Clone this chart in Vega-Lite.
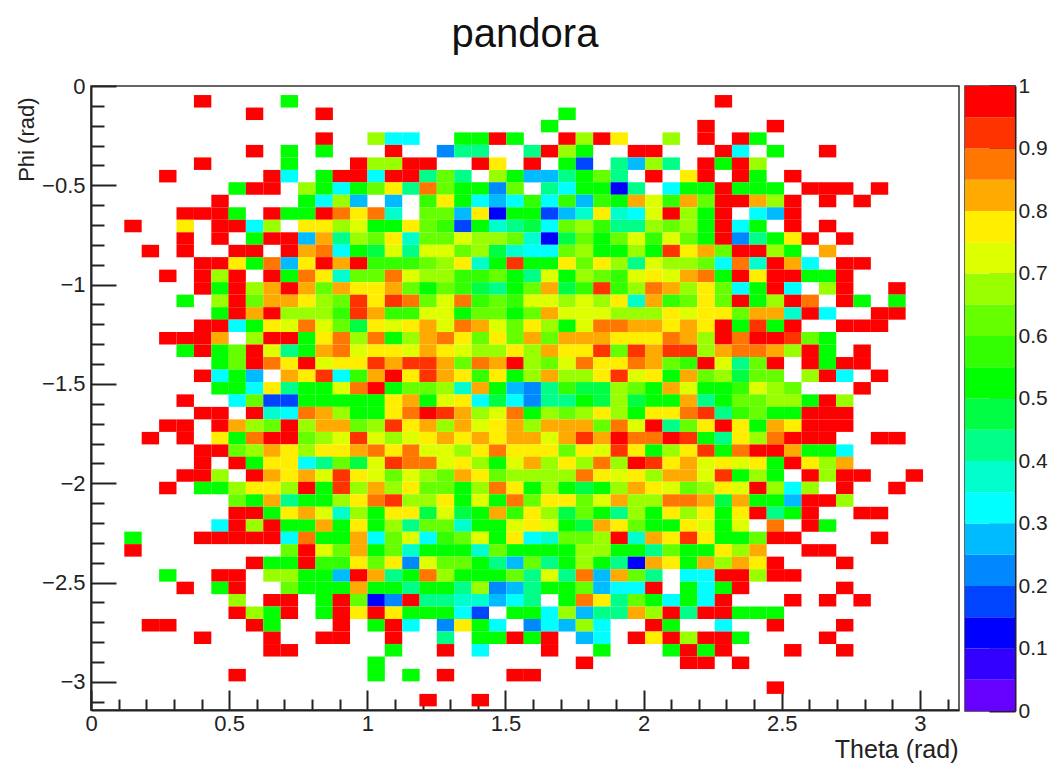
{"$schema":"https://vega.github.io/schema/vega-lite/v6.json","background":"white","padding":{"left":14,"top":14,"right":0,"bottom":0},"spacing":4,"config":{"font":"Liberation Sans","view":{"stroke":"#333","strokeWidth":1.5},"axis":{"labelFont":"Liberation Sans","titleFont":"Liberation Sans","labelColor":"#222","titleColor":"#222","domainColor":"#222","domainWidth":2,"tickColor":"#222","tickWidth":2,"grid":false,"titleFontWeight":"normal"}},"hconcat":[{"width":868,"height":624,"title":{"text":"pandora","fontSize":40,"fontWeight":"normal","font":"Liberation Sans","color":"#111","anchor":"middle","offset":20},"data":{"values":[
{"t":0.404,"p":-0.077,"v":1},{"t":0.718,"p":-0.077,"v":0.52},{"t":2.289,"p":-0.077,"v":1},
{"t":0.592,"p":-0.14,"v":1},{"t":0.844,"p":-0.14,"v":1},{"t":1.723,"p":-0.14,"v":0.52},
{"t":1.66,"p":-0.202,"v":0.52},{"t":2.226,"p":-0.202,"v":1},{"t":2.477,"p":-0.202,"v":1},
{"t":0.844,"p":-0.265,"v":1},{"t":1.032,"p":-0.265,"v":0.67},{"t":1.095,"p":-0.265,"v":0.33},{"t":1.158,"p":-0.265,"v":0.33},{"t":1.346,"p":-0.265,"v":0.52},{"t":1.409,"p":-0.265,"v":0.52},{"t":1.472,"p":-0.265,"v":1},{"t":1.535,"p":-0.265,"v":0.52},{"t":1.723,"p":-0.265,"v":1},{"t":1.786,"p":-0.265,"v":0.67},{"t":1.849,"p":-0.265,"v":1},{"t":1.912,"p":-0.265,"v":0.77},{"t":2.1,"p":-0.265,"v":0.67},{"t":2.226,"p":-0.265,"v":1},{"t":2.351,"p":-0.265,"v":1},{"t":2.414,"p":-0.265,"v":0.52},
{"t":0.592,"p":-0.328,"v":1},{"t":0.718,"p":-0.328,"v":0.52},{"t":0.844,"p":-0.328,"v":0.52},{"t":1.095,"p":-0.328,"v":1},{"t":1.283,"p":-0.328,"v":0.22},{"t":1.346,"p":-0.328,"v":0.42},{"t":1.409,"p":-0.328,"v":0.42},{"t":1.597,"p":-0.328,"v":0.42},{"t":1.66,"p":-0.328,"v":1},{"t":1.723,"p":-0.328,"v":0.67},{"t":1.786,"p":-0.328,"v":0.52},{"t":1.974,"p":-0.328,"v":1},{"t":2.037,"p":-0.328,"v":1},{"t":2.289,"p":-0.328,"v":1},{"t":2.351,"p":-0.328,"v":0.33},{"t":2.477,"p":-0.328,"v":0.52},{"t":2.666,"p":-0.328,"v":1},
{"t":0.404,"p":-0.391,"v":1},{"t":0.718,"p":-0.391,"v":0.52},{"t":0.969,"p":-0.391,"v":1},{"t":1.032,"p":-0.391,"v":0.67},{"t":1.095,"p":-0.391,"v":0.67},{"t":1.158,"p":-0.391,"v":1},{"t":1.22,"p":-0.391,"v":1},{"t":1.409,"p":-0.391,"v":1},{"t":1.472,"p":-0.391,"v":0.77},{"t":1.597,"p":-0.391,"v":1},{"t":1.723,"p":-0.391,"v":0.52},{"t":1.786,"p":-0.391,"v":0.17},{"t":1.912,"p":-0.391,"v":0.42},{"t":1.974,"p":-0.391,"v":0.27},{"t":2.037,"p":-0.391,"v":0.67},{"t":2.1,"p":-0.391,"v":0.42},{"t":2.226,"p":-0.391,"v":1},{"t":2.289,"p":-0.391,"v":0.52},{"t":2.351,"p":-0.391,"v":1},{"t":2.414,"p":-0.391,"v":0.67},
{"t":0.278,"p":-0.454,"v":1},{"t":0.655,"p":-0.454,"v":1},{"t":0.718,"p":-0.454,"v":0.33},{"t":0.844,"p":-0.454,"v":0.52},{"t":0.906,"p":-0.454,"v":1},{"t":0.969,"p":-0.454,"v":1},{"t":1.032,"p":-0.454,"v":0.33},{"t":1.095,"p":-0.454,"v":1},{"t":1.158,"p":-0.454,"v":1},{"t":1.22,"p":-0.454,"v":0.42},{"t":1.283,"p":-0.454,"v":0.62},{"t":1.346,"p":-0.454,"v":0.42},{"t":1.472,"p":-0.454,"v":0.67},{"t":1.535,"p":-0.454,"v":0.52},{"t":1.597,"p":-0.454,"v":0.27},{"t":1.66,"p":-0.454,"v":0.27},{"t":1.723,"p":-0.454,"v":0.42},{"t":1.786,"p":-0.454,"v":0.52},{"t":1.849,"p":-0.454,"v":0.62},{"t":1.912,"p":-0.454,"v":0.42},{"t":2.037,"p":-0.454,"v":1},{"t":2.163,"p":-0.454,"v":0.77},{"t":2.226,"p":-0.454,"v":1},{"t":2.351,"p":-0.454,"v":1},{"t":2.414,"p":-0.454,"v":0.52},{"t":2.54,"p":-0.454,"v":1},
{"t":0.529,"p":-0.516,"v":0.52},{"t":0.592,"p":-0.516,"v":1},{"t":0.655,"p":-0.516,"v":1},{"t":0.781,"p":-0.516,"v":0.67},{"t":0.844,"p":-0.516,"v":0.52},{"t":0.906,"p":-0.516,"v":0.33},{"t":0.969,"p":-0.516,"v":0.52},{"t":1.032,"p":-0.516,"v":0.62},{"t":1.095,"p":-0.516,"v":0.77},{"t":1.158,"p":-0.516,"v":0.42},{"t":1.22,"p":-0.516,"v":0.87},{"t":1.283,"p":-0.516,"v":0.62},{"t":1.346,"p":-0.516,"v":0.52},{"t":1.409,"p":-0.516,"v":0.52},{"t":1.472,"p":-0.516,"v":0.22},{"t":1.535,"p":-0.516,"v":0.62},{"t":1.66,"p":-0.516,"v":0.42},{"t":1.723,"p":-0.516,"v":0.33},{"t":1.786,"p":-0.516,"v":0.52},{"t":1.849,"p":-0.516,"v":0.52},{"t":1.912,"p":-0.516,"v":0.12},{"t":1.974,"p":-0.516,"v":0.42},{"t":2.1,"p":-0.516,"v":0.33},{"t":2.163,"p":-0.516,"v":0.52},{"t":2.226,"p":-0.516,"v":0.52},{"t":2.289,"p":-0.516,"v":1},{"t":2.351,"p":-0.516,"v":0.52},{"t":2.414,"p":-0.516,"v":0.52},{"t":2.477,"p":-0.516,"v":0.52},{"t":2.603,"p":-0.516,"v":1},{"t":2.666,"p":-0.516,"v":1},{"t":2.728,"p":-0.516,"v":1},{"t":2.854,"p":-0.516,"v":1},
{"t":0.467,"p":-0.579,"v":1},{"t":0.781,"p":-0.579,"v":0.52},{"t":0.844,"p":-0.579,"v":0.33},{"t":0.906,"p":-0.579,"v":0.67},{"t":0.969,"p":-0.579,"v":0.27},{"t":1.095,"p":-0.579,"v":0.27},{"t":1.22,"p":-0.579,"v":0.57},{"t":1.283,"p":-0.579,"v":0.77},{"t":1.346,"p":-0.579,"v":0.52},{"t":1.409,"p":-0.579,"v":0.33},{"t":1.472,"p":-0.579,"v":0.27},{"t":1.535,"p":-0.579,"v":0.33},{"t":1.597,"p":-0.579,"v":0.57},{"t":1.66,"p":-0.579,"v":0.33},{"t":1.723,"p":-0.579,"v":0.57},{"t":1.786,"p":-0.579,"v":0.27},{"t":1.849,"p":-0.579,"v":0.57},{"t":1.912,"p":-0.579,"v":0.52},{"t":1.974,"p":-0.579,"v":0.82},{"t":2.037,"p":-0.579,"v":0.72},{"t":2.1,"p":-0.579,"v":0.57},{"t":2.163,"p":-0.579,"v":0.82},{"t":2.226,"p":-0.579,"v":0.62},{"t":2.289,"p":-0.579,"v":1},{"t":2.351,"p":-0.579,"v":1},{"t":2.414,"p":-0.579,"v":0.82},{"t":2.477,"p":-0.579,"v":0.67},{"t":2.54,"p":-0.579,"v":1},{"t":2.666,"p":-0.579,"v":1},{"t":2.791,"p":-0.579,"v":1},
{"t":0.341,"p":-0.642,"v":1},{"t":0.404,"p":-0.642,"v":1},{"t":0.467,"p":-0.642,"v":1},{"t":0.529,"p":-0.642,"v":0.52},{"t":0.655,"p":-0.642,"v":1},{"t":0.718,"p":-0.642,"v":0.52},{"t":0.781,"p":-0.642,"v":0.52},{"t":0.844,"p":-0.642,"v":1},{"t":0.906,"p":-0.642,"v":0.87},{"t":0.969,"p":-0.642,"v":0.77},{"t":1.032,"p":-0.642,"v":0.87},{"t":1.095,"p":-0.642,"v":0.37},{"t":1.22,"p":-0.642,"v":0.62},{"t":1.283,"p":-0.642,"v":0.62},{"t":1.346,"p":-0.642,"v":0.27},{"t":1.409,"p":-0.642,"v":0.77},{"t":1.472,"p":-0.642,"v":0.12},{"t":1.535,"p":-0.642,"v":0.52},{"t":1.597,"p":-0.642,"v":0.52},{"t":1.66,"p":-0.642,"v":0.17},{"t":1.723,"p":-0.642,"v":0.27},{"t":1.786,"p":-0.642,"v":0.37},{"t":1.849,"p":-0.642,"v":0.77},{"t":1.912,"p":-0.642,"v":0.37},{"t":1.974,"p":-0.642,"v":0.33},{"t":2.037,"p":-0.642,"v":0.72},{"t":2.1,"p":-0.642,"v":1},{"t":2.163,"p":-0.642,"v":0.67},{"t":2.226,"p":-0.642,"v":0.52},{"t":2.289,"p":-0.642,"v":1},{"t":2.414,"p":-0.642,"v":0.33},{"t":2.477,"p":-0.642,"v":0.27},{"t":2.54,"p":-0.642,"v":1},
{"t":0.152,"p":-0.705,"v":1},{"t":0.341,"p":-0.705,"v":0.77},{"t":0.467,"p":-0.705,"v":1},{"t":0.529,"p":-0.705,"v":1},{"t":0.592,"p":-0.705,"v":0.33},{"t":0.655,"p":-0.705,"v":0.67},{"t":0.781,"p":-0.705,"v":0.77},{"t":0.844,"p":-0.705,"v":0.77},{"t":0.906,"p":-0.705,"v":0.67},{"t":0.969,"p":-0.705,"v":0.72},{"t":1.032,"p":-0.705,"v":0.52},{"t":1.095,"p":-0.705,"v":0.52},{"t":1.158,"p":-0.705,"v":0.77},{"t":1.22,"p":-0.705,"v":0.62},{"t":1.283,"p":-0.705,"v":0.57},{"t":1.346,"p":-0.705,"v":0.17},{"t":1.409,"p":-0.705,"v":0.52},{"t":1.472,"p":-0.705,"v":0.37},{"t":1.535,"p":-0.705,"v":0.42},{"t":1.597,"p":-0.705,"v":0.47},{"t":1.66,"p":-0.705,"v":0.33},{"t":1.723,"p":-0.705,"v":0.62},{"t":1.786,"p":-0.705,"v":0.67},{"t":1.849,"p":-0.705,"v":0.57},{"t":1.912,"p":-0.705,"v":0.42},{"t":1.974,"p":-0.705,"v":0.42},{"t":2.037,"p":-0.705,"v":0.67},{"t":2.1,"p":-0.705,"v":0.62},{"t":2.163,"p":-0.705,"v":0.67},{"t":2.226,"p":-0.705,"v":0.52},{"t":2.289,"p":-0.705,"v":1},{"t":2.351,"p":-0.705,"v":0.33},{"t":2.414,"p":-0.705,"v":0.52},{"t":2.54,"p":-0.705,"v":1},{"t":2.666,"p":-0.705,"v":1},
{"t":0.341,"p":-0.768,"v":1},{"t":0.467,"p":-0.768,"v":1},{"t":0.592,"p":-0.768,"v":0.52},{"t":0.655,"p":-0.768,"v":1},{"t":0.718,"p":-0.768,"v":1},{"t":0.781,"p":-0.768,"v":0.27},{"t":0.844,"p":-0.768,"v":0.82},{"t":0.906,"p":-0.768,"v":0.42},{"t":0.969,"p":-0.768,"v":0.67},{"t":1.032,"p":-0.768,"v":0.62},{"t":1.095,"p":-0.768,"v":0.77},{"t":1.158,"p":-0.768,"v":0.37},{"t":1.22,"p":-0.768,"v":0.62},{"t":1.283,"p":-0.768,"v":0.62},{"t":1.346,"p":-0.768,"v":0.72},{"t":1.409,"p":-0.768,"v":0.67},{"t":1.472,"p":-0.768,"v":0.67},{"t":1.535,"p":-0.768,"v":0.62},{"t":1.597,"p":-0.768,"v":0.37},{"t":1.66,"p":-0.768,"v":0.12},{"t":1.723,"p":-0.768,"v":0.47},{"t":1.786,"p":-0.768,"v":0.62},{"t":1.849,"p":-0.768,"v":0.52},{"t":1.912,"p":-0.768,"v":0.62},{"t":1.974,"p":-0.768,"v":0.72},{"t":2.037,"p":-0.768,"v":0.57},{"t":2.1,"p":-0.768,"v":0.72},{"t":2.163,"p":-0.768,"v":0.62},{"t":2.226,"p":-0.768,"v":0.52},{"t":2.289,"p":-0.768,"v":1},{"t":2.351,"p":-0.768,"v":0.22},{"t":2.414,"p":-0.768,"v":0.42},{"t":2.477,"p":-0.768,"v":0.52},{"t":2.54,"p":-0.768,"v":0.77},{"t":2.603,"p":-0.768,"v":1},{"t":2.728,"p":-0.768,"v":1},
{"t":0.215,"p":-0.831,"v":1},{"t":0.341,"p":-0.831,"v":1},{"t":0.529,"p":-0.831,"v":1},{"t":0.592,"p":-0.831,"v":1},{"t":0.718,"p":-0.831,"v":1},{"t":0.781,"p":-0.831,"v":0.82},{"t":0.844,"p":-0.831,"v":0.87},{"t":0.906,"p":-0.831,"v":0.33},{"t":0.969,"p":-0.831,"v":0.52},{"t":1.032,"p":-0.831,"v":0.47},{"t":1.095,"p":-0.831,"v":0.72},{"t":1.158,"p":-0.831,"v":0.42},{"t":1.22,"p":-0.831,"v":0.72},{"t":1.283,"p":-0.831,"v":0.72},{"t":1.346,"p":-0.831,"v":0.62},{"t":1.409,"p":-0.831,"v":0.67},{"t":1.472,"p":-0.831,"v":0.47},{"t":1.535,"p":-0.831,"v":0.37},{"t":1.597,"p":-0.831,"v":0.33},{"t":1.66,"p":-0.831,"v":0.33},{"t":1.723,"p":-0.831,"v":0.62},{"t":1.786,"p":-0.831,"v":0.67},{"t":1.849,"p":-0.831,"v":0.52},{"t":1.912,"p":-0.831,"v":0.52},{"t":1.974,"p":-0.831,"v":0.67},{"t":2.037,"p":-0.831,"v":0.52},{"t":2.1,"p":-0.831,"v":0.92},{"t":2.163,"p":-0.831,"v":0.77},{"t":2.226,"p":-0.831,"v":0.82},{"t":2.289,"p":-0.831,"v":0.62},{"t":2.351,"p":-0.831,"v":1},{"t":2.414,"p":-0.831,"v":1},{"t":2.477,"p":-0.831,"v":0.67},{"t":2.54,"p":-0.831,"v":0.52},{"t":2.666,"p":-0.831,"v":0.82},
{"t":0.404,"p":-0.893,"v":1},{"t":0.467,"p":-0.893,"v":1},{"t":0.529,"p":-0.893,"v":0.77},{"t":0.592,"p":-0.893,"v":0.52},{"t":0.655,"p":-0.893,"v":0.87},{"t":0.718,"p":-0.893,"v":0.27},{"t":0.781,"p":-0.893,"v":0.77},{"t":0.844,"p":-0.893,"v":1},{"t":0.906,"p":-0.893,"v":0.82},{"t":0.969,"p":-0.893,"v":1},{"t":1.032,"p":-0.893,"v":0.57},{"t":1.095,"p":-0.893,"v":0.57},{"t":1.158,"p":-0.893,"v":0.57},{"t":1.22,"p":-0.893,"v":0.62},{"t":1.283,"p":-0.893,"v":0.67},{"t":1.346,"p":-0.893,"v":0.77},{"t":1.409,"p":-0.893,"v":0.37},{"t":1.472,"p":-0.893,"v":0.52},{"t":1.535,"p":-0.893,"v":0.92},{"t":1.597,"p":-0.893,"v":0.52},{"t":1.66,"p":-0.893,"v":0.52},{"t":1.723,"p":-0.893,"v":0.77},{"t":1.786,"p":-0.893,"v":0.62},{"t":1.849,"p":-0.893,"v":0.77},{"t":1.912,"p":-0.893,"v":0.67},{"t":1.974,"p":-0.893,"v":0.42},{"t":2.037,"p":-0.893,"v":0.72},{"t":2.1,"p":-0.893,"v":0.67},{"t":2.163,"p":-0.893,"v":0.67},{"t":2.226,"p":-0.893,"v":0.62},{"t":2.289,"p":-0.893,"v":0.33},{"t":2.351,"p":-0.893,"v":0.87},{"t":2.414,"p":-0.893,"v":0.37},{"t":2.477,"p":-0.893,"v":1},{"t":2.54,"p":-0.893,"v":0.82},{"t":2.603,"p":-0.893,"v":0.33},{"t":2.728,"p":-0.893,"v":1},{"t":2.791,"p":-0.893,"v":1},
{"t":0.278,"p":-0.956,"v":1},{"t":0.404,"p":-0.956,"v":1},{"t":0.467,"p":-0.956,"v":0.67},{"t":0.529,"p":-0.956,"v":1},{"t":0.655,"p":-0.956,"v":1},{"t":0.718,"p":-0.956,"v":0.52},{"t":0.781,"p":-0.956,"v":0.87},{"t":0.844,"p":-0.956,"v":0.77},{"t":0.906,"p":-0.956,"v":0.37},{"t":0.969,"p":-0.956,"v":0.62},{"t":1.032,"p":-0.956,"v":0.62},{"t":1.095,"p":-0.956,"v":0.87},{"t":1.158,"p":-0.956,"v":0.72},{"t":1.22,"p":-0.956,"v":0.67},{"t":1.283,"p":-0.956,"v":0.67},{"t":1.346,"p":-0.956,"v":0.57},{"t":1.409,"p":-0.956,"v":0.57},{"t":1.472,"p":-0.956,"v":0.62},{"t":1.535,"p":-0.956,"v":0.52},{"t":1.597,"p":-0.956,"v":0.42},{"t":1.66,"p":-0.956,"v":0.72},{"t":1.723,"p":-0.956,"v":0.52},{"t":1.786,"p":-0.956,"v":0.67},{"t":1.849,"p":-0.956,"v":0.62},{"t":1.912,"p":-0.956,"v":0.57},{"t":1.974,"p":-0.956,"v":0.72},{"t":2.037,"p":-0.956,"v":0.77},{"t":2.1,"p":-0.956,"v":0.72},{"t":2.163,"p":-0.956,"v":0.82},{"t":2.226,"p":-0.956,"v":0.87},{"t":2.289,"p":-0.956,"v":0.52},{"t":2.351,"p":-0.956,"v":1},{"t":2.414,"p":-0.956,"v":0.77},{"t":2.477,"p":-0.956,"v":1},{"t":2.54,"p":-0.956,"v":1},{"t":2.603,"p":-0.956,"v":0.52},{"t":2.666,"p":-0.956,"v":0.52},{"t":2.728,"p":-0.956,"v":1},
{"t":0.404,"p":-1.019,"v":1},{"t":0.467,"p":-1.019,"v":0.52},{"t":0.529,"p":-1.019,"v":1},{"t":0.592,"p":-1.019,"v":0.67},{"t":0.655,"p":-1.019,"v":0.82},{"t":0.718,"p":-1.019,"v":1},{"t":0.781,"p":-1.019,"v":0.82},{"t":0.844,"p":-1.019,"v":0.62},{"t":0.906,"p":-1.019,"v":0.82},{"t":0.969,"p":-1.019,"v":0.77},{"t":1.032,"p":-1.019,"v":0.77},{"t":1.095,"p":-1.019,"v":0.82},{"t":1.158,"p":-1.019,"v":0.62},{"t":1.22,"p":-1.019,"v":0.52},{"t":1.283,"p":-1.019,"v":0.62},{"t":1.346,"p":-1.019,"v":0.57},{"t":1.409,"p":-1.019,"v":0.47},{"t":1.472,"p":-1.019,"v":0.42},{"t":1.535,"p":-1.019,"v":0.52},{"t":1.597,"p":-1.019,"v":0.62},{"t":1.66,"p":-1.019,"v":0.82},{"t":1.723,"p":-1.019,"v":0.47},{"t":1.786,"p":-1.019,"v":0.57},{"t":1.849,"p":-1.019,"v":0.92},{"t":1.912,"p":-1.019,"v":0.57},{"t":1.974,"p":-1.019,"v":0.67},{"t":2.037,"p":-1.019,"v":0.87},{"t":2.1,"p":-1.019,"v":0.82},{"t":2.163,"p":-1.019,"v":0.67},{"t":2.226,"p":-1.019,"v":0.77},{"t":2.289,"p":-1.019,"v":0.62},{"t":2.351,"p":-1.019,"v":0.33},{"t":2.414,"p":-1.019,"v":0.52},{"t":2.477,"p":-1.019,"v":1},{"t":2.54,"p":-1.019,"v":0.33},{"t":2.666,"p":-1.019,"v":0.67},{"t":2.728,"p":-1.019,"v":1},{"t":2.917,"p":-1.019,"v":1},
{"t":0.341,"p":-1.082,"v":0.52},{"t":0.467,"p":-1.082,"v":0.67},{"t":0.529,"p":-1.082,"v":1},{"t":0.592,"p":-1.082,"v":0.62},{"t":0.655,"p":-1.082,"v":0.82},{"t":0.718,"p":-1.082,"v":0.82},{"t":0.781,"p":-1.082,"v":0.77},{"t":0.844,"p":-1.082,"v":0.67},{"t":0.906,"p":-1.082,"v":0.62},{"t":0.969,"p":-1.082,"v":0.92},{"t":1.032,"p":-1.082,"v":0.77},{"t":1.095,"p":-1.082,"v":0.92},{"t":1.158,"p":-1.082,"v":0.87},{"t":1.22,"p":-1.082,"v":0.62},{"t":1.283,"p":-1.082,"v":0.72},{"t":1.346,"p":-1.082,"v":0.87},{"t":1.409,"p":-1.082,"v":0.57},{"t":1.472,"p":-1.082,"v":0.62},{"t":1.535,"p":-1.082,"v":0.57},{"t":1.597,"p":-1.082,"v":0.72},{"t":1.66,"p":-1.082,"v":0.72},{"t":1.723,"p":-1.082,"v":0.67},{"t":1.786,"p":-1.082,"v":0.72},{"t":1.849,"p":-1.082,"v":0.67},{"t":1.912,"p":-1.082,"v":0.77},{"t":1.974,"p":-1.082,"v":0.37},{"t":2.037,"p":-1.082,"v":0.82},{"t":2.1,"p":-1.082,"v":0.57},{"t":2.163,"p":-1.082,"v":0.62},{"t":2.226,"p":-1.082,"v":0.77},{"t":2.289,"p":-1.082,"v":0.62},{"t":2.351,"p":-1.082,"v":1},{"t":2.414,"p":-1.082,"v":0.52},{"t":2.477,"p":-1.082,"v":0.67},{"t":2.54,"p":-1.082,"v":1},{"t":2.603,"p":-1.082,"v":0.87},{"t":2.728,"p":-1.082,"v":1},{"t":2.791,"p":-1.082,"v":0.52},{"t":2.917,"p":-1.082,"v":0.52},
{"t":0.467,"p":-1.145,"v":0.52},{"t":0.529,"p":-1.145,"v":1},{"t":0.592,"p":-1.145,"v":0.82},{"t":0.655,"p":-1.145,"v":1},{"t":0.718,"p":-1.145,"v":0.67},{"t":0.781,"p":-1.145,"v":0.67},{"t":0.844,"p":-1.145,"v":0.67},{"t":0.906,"p":-1.145,"v":0.57},{"t":0.969,"p":-1.145,"v":0.92},{"t":1.032,"p":-1.145,"v":0.82},{"t":1.095,"p":-1.145,"v":0.57},{"t":1.158,"p":-1.145,"v":0.57},{"t":1.22,"p":-1.145,"v":0.72},{"t":1.283,"p":-1.145,"v":0.72},{"t":1.346,"p":-1.145,"v":0.52},{"t":1.409,"p":-1.145,"v":0.62},{"t":1.472,"p":-1.145,"v":0.62},{"t":1.535,"p":-1.145,"v":0.52},{"t":1.597,"p":-1.145,"v":0.62},{"t":1.66,"p":-1.145,"v":0.82},{"t":1.723,"p":-1.145,"v":0.72},{"t":1.786,"p":-1.145,"v":0.72},{"t":1.849,"p":-1.145,"v":0.72},{"t":1.912,"p":-1.145,"v":0.67},{"t":1.974,"p":-1.145,"v":0.67},{"t":2.037,"p":-1.145,"v":0.67},{"t":2.1,"p":-1.145,"v":0.77},{"t":2.163,"p":-1.145,"v":0.72},{"t":2.226,"p":-1.145,"v":0.77},{"t":2.289,"p":-1.145,"v":0.77},{"t":2.351,"p":-1.145,"v":0.62},{"t":2.414,"p":-1.145,"v":0.82},{"t":2.477,"p":-1.145,"v":0.82},{"t":2.54,"p":-1.145,"v":0.37},{"t":2.603,"p":-1.145,"v":1},{"t":2.666,"p":-1.145,"v":0.33},{"t":2.854,"p":-1.145,"v":1},{"t":2.917,"p":-1.145,"v":1},
{"t":0.404,"p":-1.207,"v":1},{"t":0.467,"p":-1.207,"v":1},{"t":0.529,"p":-1.207,"v":0.33},{"t":0.592,"p":-1.207,"v":0.52},{"t":0.655,"p":-1.207,"v":0.77},{"t":0.718,"p":-1.207,"v":0.72},{"t":0.781,"p":-1.207,"v":0.87},{"t":0.844,"p":-1.207,"v":0.72},{"t":0.906,"p":-1.207,"v":0.62},{"t":0.969,"p":-1.207,"v":0.47},{"t":1.032,"p":-1.207,"v":0.77},{"t":1.095,"p":-1.207,"v":0.72},{"t":1.158,"p":-1.207,"v":0.77},{"t":1.22,"p":-1.207,"v":0.82},{"t":1.283,"p":-1.207,"v":0.72},{"t":1.346,"p":-1.207,"v":0.87},{"t":1.409,"p":-1.207,"v":0.82},{"t":1.472,"p":-1.207,"v":0.72},{"t":1.535,"p":-1.207,"v":0.62},{"t":1.597,"p":-1.207,"v":0.77},{"t":1.66,"p":-1.207,"v":0.67},{"t":1.723,"p":-1.207,"v":0.52},{"t":1.786,"p":-1.207,"v":0.72},{"t":1.849,"p":-1.207,"v":0.87},{"t":1.912,"p":-1.207,"v":0.87},{"t":1.974,"p":-1.207,"v":0.82},{"t":2.037,"p":-1.207,"v":0.82},{"t":2.1,"p":-1.207,"v":0.77},{"t":2.163,"p":-1.207,"v":0.82},{"t":2.226,"p":-1.207,"v":0.77},{"t":2.289,"p":-1.207,"v":1},{"t":2.351,"p":-1.207,"v":0.52},{"t":2.414,"p":-1.207,"v":0.92},{"t":2.477,"p":-1.207,"v":0.52},{"t":2.54,"p":-1.207,"v":1},{"t":2.728,"p":-1.207,"v":1},{"t":2.791,"p":-1.207,"v":1},{"t":2.854,"p":-1.207,"v":1},
{"t":0.278,"p":-1.27,"v":1},{"t":0.341,"p":-1.27,"v":1},{"t":0.404,"p":-1.27,"v":1},{"t":0.467,"p":-1.27,"v":0.82},{"t":0.592,"p":-1.27,"v":0.67},{"t":0.655,"p":-1.27,"v":1},{"t":0.718,"p":-1.27,"v":1},{"t":0.781,"p":-1.27,"v":0.52},{"t":0.844,"p":-1.27,"v":0.77},{"t":0.906,"p":-1.27,"v":0.87},{"t":0.969,"p":-1.27,"v":0.67},{"t":1.032,"p":-1.27,"v":0.87},{"t":1.095,"p":-1.27,"v":0.52},{"t":1.158,"p":-1.27,"v":0.67},{"t":1.22,"p":-1.27,"v":0.82},{"t":1.283,"p":-1.27,"v":0.87},{"t":1.346,"p":-1.27,"v":0.77},{"t":1.409,"p":-1.27,"v":0.62},{"t":1.472,"p":-1.27,"v":0.77},{"t":1.535,"p":-1.27,"v":0.62},{"t":1.597,"p":-1.27,"v":0.82},{"t":1.66,"p":-1.27,"v":0.62},{"t":1.723,"p":-1.27,"v":0.82},{"t":1.786,"p":-1.27,"v":0.82},{"t":1.849,"p":-1.27,"v":0.82},{"t":1.912,"p":-1.27,"v":0.77},{"t":1.974,"p":-1.27,"v":0.77},{"t":2.037,"p":-1.27,"v":0.77},{"t":2.1,"p":-1.27,"v":0.87},{"t":2.163,"p":-1.27,"v":0.82},{"t":2.226,"p":-1.27,"v":0.67},{"t":2.289,"p":-1.27,"v":1},{"t":2.351,"p":-1.27,"v":0.87},{"t":2.414,"p":-1.27,"v":1},{"t":2.477,"p":-1.27,"v":1},{"t":2.54,"p":-1.27,"v":0.92},{"t":2.603,"p":-1.27,"v":0.62},{"t":2.666,"p":-1.27,"v":0.52},
{"t":0.341,"p":-1.333,"v":0.52},{"t":0.404,"p":-1.333,"v":1},{"t":0.467,"p":-1.333,"v":0.52},{"t":0.529,"p":-1.333,"v":0.62},{"t":0.592,"p":-1.333,"v":1},{"t":0.655,"p":-1.333,"v":0.72},{"t":0.718,"p":-1.333,"v":0.42},{"t":0.781,"p":-1.333,"v":0.52},{"t":0.844,"p":-1.333,"v":0.82},{"t":0.906,"p":-1.333,"v":0.87},{"t":0.969,"p":-1.333,"v":0.72},{"t":1.032,"p":-1.333,"v":0.77},{"t":1.095,"p":-1.333,"v":0.77},{"t":1.158,"p":-1.333,"v":0.72},{"t":1.22,"p":-1.333,"v":0.82},{"t":1.283,"p":-1.333,"v":0.77},{"t":1.346,"p":-1.333,"v":0.72},{"t":1.409,"p":-1.333,"v":0.67},{"t":1.472,"p":-1.333,"v":0.67},{"t":1.535,"p":-1.333,"v":0.77},{"t":1.597,"p":-1.333,"v":0.67},{"t":1.66,"p":-1.333,"v":0.82},{"t":1.723,"p":-1.333,"v":0.77},{"t":1.786,"p":-1.333,"v":0.77},{"t":1.849,"p":-1.333,"v":0.92},{"t":1.912,"p":-1.333,"v":0.62},{"t":1.974,"p":-1.333,"v":0.92},{"t":2.037,"p":-1.333,"v":0.82},{"t":2.1,"p":-1.333,"v":0.92},{"t":2.163,"p":-1.333,"v":0.92},{"t":2.226,"p":-1.333,"v":0.67},{"t":2.289,"p":-1.333,"v":0.82},{"t":2.351,"p":-1.333,"v":0.87},{"t":2.414,"p":-1.333,"v":0.87},{"t":2.477,"p":-1.333,"v":0.82},{"t":2.54,"p":-1.333,"v":0.67},{"t":2.603,"p":-1.333,"v":1},{"t":2.666,"p":-1.333,"v":0.52},{"t":2.791,"p":-1.333,"v":1},
{"t":0.467,"p":-1.396,"v":0.52},{"t":0.529,"p":-1.396,"v":0.62},{"t":0.592,"p":-1.396,"v":1},{"t":0.655,"p":-1.396,"v":0.87},{"t":0.718,"p":-1.396,"v":0.77},{"t":0.781,"p":-1.396,"v":1},{"t":0.844,"p":-1.396,"v":0.72},{"t":0.906,"p":-1.396,"v":0.77},{"t":0.969,"p":-1.396,"v":0.77},{"t":1.032,"p":-1.396,"v":0.92},{"t":1.095,"p":-1.396,"v":0.82},{"t":1.158,"p":-1.396,"v":0.92},{"t":1.22,"p":-1.396,"v":0.92},{"t":1.283,"p":-1.396,"v":0.82},{"t":1.346,"p":-1.396,"v":0.62},{"t":1.409,"p":-1.396,"v":0.87},{"t":1.472,"p":-1.396,"v":0.82},{"t":1.535,"p":-1.396,"v":1},{"t":1.597,"p":-1.396,"v":0.67},{"t":1.66,"p":-1.396,"v":0.62},{"t":1.723,"p":-1.396,"v":0.72},{"t":1.786,"p":-1.396,"v":0.87},{"t":1.849,"p":-1.396,"v":0.77},{"t":1.912,"p":-1.396,"v":0.77},{"t":1.974,"p":-1.396,"v":0.87},{"t":2.037,"p":-1.396,"v":0.82},{"t":2.1,"p":-1.396,"v":0.62},{"t":2.163,"p":-1.396,"v":0.57},{"t":2.226,"p":-1.396,"v":1},{"t":2.289,"p":-1.396,"v":0.72},{"t":2.351,"p":-1.396,"v":0.42},{"t":2.414,"p":-1.396,"v":0.62},{"t":2.477,"p":-1.396,"v":1},{"t":2.603,"p":-1.396,"v":1},{"t":2.666,"p":-1.396,"v":0.52},{"t":2.728,"p":-1.396,"v":1},{"t":2.791,"p":-1.396,"v":1},
{"t":0.404,"p":-1.459,"v":1},{"t":0.467,"p":-1.459,"v":0.33},{"t":0.529,"p":-1.459,"v":0.52},{"t":0.592,"p":-1.459,"v":0.27},{"t":0.718,"p":-1.459,"v":0.82},{"t":0.781,"p":-1.459,"v":0.77},{"t":0.844,"p":-1.459,"v":0.92},{"t":0.906,"p":-1.459,"v":0.33},{"t":0.969,"p":-1.459,"v":0.57},{"t":1.032,"p":-1.459,"v":0.82},{"t":1.095,"p":-1.459,"v":1},{"t":1.158,"p":-1.459,"v":0.77},{"t":1.22,"p":-1.459,"v":0.92},{"t":1.283,"p":-1.459,"v":0.82},{"t":1.346,"p":-1.459,"v":0.77},{"t":1.409,"p":-1.459,"v":0.57},{"t":1.472,"p":-1.459,"v":0.77},{"t":1.535,"p":-1.459,"v":0.52},{"t":1.597,"p":-1.459,"v":0.67},{"t":1.66,"p":-1.459,"v":0.82},{"t":1.723,"p":-1.459,"v":0.67},{"t":1.786,"p":-1.459,"v":0.67},{"t":1.849,"p":-1.459,"v":0.77},{"t":1.912,"p":-1.459,"v":0.92},{"t":1.974,"p":-1.459,"v":0.72},{"t":2.037,"p":-1.459,"v":0.77},{"t":2.1,"p":-1.459,"v":0.52},{"t":2.163,"p":-1.459,"v":0.82},{"t":2.226,"p":-1.459,"v":0.62},{"t":2.289,"p":-1.459,"v":0.67},{"t":2.351,"p":-1.459,"v":0.47},{"t":2.414,"p":-1.459,"v":0.62},{"t":2.477,"p":-1.459,"v":0.62},{"t":2.603,"p":-1.459,"v":0.67},{"t":2.666,"p":-1.459,"v":1},{"t":2.728,"p":-1.459,"v":0.33},{"t":2.854,"p":-1.459,"v":1},
{"t":0.467,"p":-1.522,"v":0.52},{"t":0.529,"p":-1.522,"v":0.52},{"t":0.592,"p":-1.522,"v":0.33},{"t":0.655,"p":-1.522,"v":0.77},{"t":0.718,"p":-1.522,"v":0.42},{"t":0.781,"p":-1.522,"v":0.52},{"t":0.844,"p":-1.522,"v":0.52},{"t":0.906,"p":-1.522,"v":0.72},{"t":0.969,"p":-1.522,"v":0.87},{"t":1.032,"p":-1.522,"v":1},{"t":1.095,"p":-1.522,"v":0.52},{"t":1.158,"p":-1.522,"v":0.62},{"t":1.22,"p":-1.522,"v":0.62},{"t":1.283,"p":-1.522,"v":0.67},{"t":1.346,"p":-1.522,"v":0.37},{"t":1.409,"p":-1.522,"v":0.82},{"t":1.472,"p":-1.522,"v":0.52},{"t":1.535,"p":-1.522,"v":0.27},{"t":1.597,"p":-1.522,"v":0.22},{"t":1.66,"p":-1.522,"v":0.42},{"t":1.723,"p":-1.522,"v":0.57},{"t":1.786,"p":-1.522,"v":0.47},{"t":1.849,"p":-1.522,"v":0.47},{"t":1.912,"p":-1.522,"v":0.67},{"t":1.974,"p":-1.522,"v":0.62},{"t":2.037,"p":-1.522,"v":0.52},{"t":2.1,"p":-1.522,"v":0.82},{"t":2.163,"p":-1.522,"v":0.72},{"t":2.226,"p":-1.522,"v":0.52},{"t":2.289,"p":-1.522,"v":0.52},{"t":2.351,"p":-1.522,"v":0.57},{"t":2.414,"p":-1.522,"v":0.72},{"t":2.477,"p":-1.522,"v":0.67},{"t":2.54,"p":-1.522,"v":0.62},{"t":2.791,"p":-1.522,"v":1},
{"t":0.341,"p":-1.584,"v":1},{"t":0.529,"p":-1.584,"v":0.33},{"t":0.592,"p":-1.584,"v":0.62},{"t":0.655,"p":-1.584,"v":0.17},{"t":0.718,"p":-1.584,"v":0.17},{"t":0.781,"p":-1.584,"v":0.52},{"t":0.844,"p":-1.584,"v":0.52},{"t":0.906,"p":-1.584,"v":0.52},{"t":0.969,"p":-1.584,"v":0.52},{"t":1.032,"p":-1.584,"v":0.52},{"t":1.095,"p":-1.584,"v":0.77},{"t":1.158,"p":-1.584,"v":0.82},{"t":1.22,"p":-1.584,"v":0.52},{"t":1.283,"p":-1.584,"v":0.72},{"t":1.346,"p":-1.584,"v":0.77},{"t":1.409,"p":-1.584,"v":0.33},{"t":1.472,"p":-1.584,"v":0.47},{"t":1.535,"p":-1.584,"v":0.33},{"t":1.597,"p":-1.584,"v":0.22},{"t":1.66,"p":-1.584,"v":0.42},{"t":1.723,"p":-1.584,"v":0.42},{"t":1.786,"p":-1.584,"v":0.52},{"t":1.849,"p":-1.584,"v":0.47},{"t":1.912,"p":-1.584,"v":0.67},{"t":1.974,"p":-1.584,"v":0.47},{"t":2.037,"p":-1.584,"v":0.52},{"t":2.1,"p":-1.584,"v":0.52},{"t":2.163,"p":-1.584,"v":0.82},{"t":2.226,"p":-1.584,"v":0.42},{"t":2.289,"p":-1.584,"v":0.52},{"t":2.351,"p":-1.584,"v":0.62},{"t":2.414,"p":-1.584,"v":0.62},{"t":2.477,"p":-1.584,"v":0.67},{"t":2.54,"p":-1.584,"v":0.67},{"t":2.603,"p":-1.584,"v":0.52},{"t":2.666,"p":-1.584,"v":1},{"t":2.728,"p":-1.584,"v":0.67},
{"t":0.404,"p":-1.647,"v":1},{"t":0.467,"p":-1.647,"v":1},{"t":0.592,"p":-1.647,"v":1},{"t":0.655,"p":-1.647,"v":0.37},{"t":0.718,"p":-1.647,"v":0.33},{"t":0.781,"p":-1.647,"v":0.87},{"t":0.844,"p":-1.647,"v":0.82},{"t":0.906,"p":-1.647,"v":0.67},{"t":0.969,"p":-1.647,"v":0.52},{"t":1.032,"p":-1.647,"v":0.52},{"t":1.095,"p":-1.647,"v":0.77},{"t":1.158,"p":-1.647,"v":0.87},{"t":1.22,"p":-1.647,"v":1},{"t":1.283,"p":-1.647,"v":0.92},{"t":1.346,"p":-1.647,"v":0.82},{"t":1.409,"p":-1.647,"v":0.67},{"t":1.472,"p":-1.647,"v":0.72},{"t":1.535,"p":-1.647,"v":0.87},{"t":1.597,"p":-1.647,"v":0.52},{"t":1.66,"p":-1.647,"v":0.67},{"t":1.723,"p":-1.647,"v":0.62},{"t":1.786,"p":-1.647,"v":0.67},{"t":1.849,"p":-1.647,"v":0.77},{"t":1.912,"p":-1.647,"v":0.67},{"t":1.974,"p":-1.647,"v":0.52},{"t":2.037,"p":-1.647,"v":0.77},{"t":2.1,"p":-1.647,"v":0.77},{"t":2.163,"p":-1.647,"v":0.87},{"t":2.226,"p":-1.647,"v":0.92},{"t":2.289,"p":-1.647,"v":0.42},{"t":2.351,"p":-1.647,"v":0.57},{"t":2.414,"p":-1.647,"v":0.62},{"t":2.477,"p":-1.647,"v":0.52},{"t":2.54,"p":-1.647,"v":0.52},{"t":2.603,"p":-1.647,"v":1},{"t":2.666,"p":-1.647,"v":1},{"t":2.728,"p":-1.647,"v":1},
{"t":0.278,"p":-1.71,"v":1},{"t":0.341,"p":-1.71,"v":1},{"t":0.467,"p":-1.71,"v":1},{"t":0.529,"p":-1.71,"v":0.82},{"t":0.592,"p":-1.71,"v":0.67},{"t":0.655,"p":-1.71,"v":0.62},{"t":0.718,"p":-1.71,"v":1},{"t":0.781,"p":-1.71,"v":0.67},{"t":0.844,"p":-1.71,"v":0.82},{"t":0.906,"p":-1.71,"v":0.82},{"t":0.969,"p":-1.71,"v":0.62},{"t":1.032,"p":-1.71,"v":0.67},{"t":1.095,"p":-1.71,"v":0.92},{"t":1.158,"p":-1.71,"v":0.77},{"t":1.22,"p":-1.71,"v":0.82},{"t":1.283,"p":-1.71,"v":0.67},{"t":1.346,"p":-1.71,"v":0.82},{"t":1.409,"p":-1.71,"v":0.72},{"t":1.472,"p":-1.71,"v":0.77},{"t":1.535,"p":-1.71,"v":0.82},{"t":1.597,"p":-1.71,"v":0.67},{"t":1.66,"p":-1.71,"v":0.82},{"t":1.723,"p":-1.71,"v":0.82},{"t":1.786,"p":-1.71,"v":0.82},{"t":1.849,"p":-1.71,"v":0.62},{"t":1.912,"p":-1.71,"v":0.87},{"t":1.974,"p":-1.71,"v":0.72},{"t":2.037,"p":-1.71,"v":1},{"t":2.1,"p":-1.71,"v":0.42},{"t":2.163,"p":-1.71,"v":0.62},{"t":2.226,"p":-1.71,"v":0.77},{"t":2.289,"p":-1.71,"v":1},{"t":2.351,"p":-1.71,"v":0.77},{"t":2.414,"p":-1.71,"v":0.52},{"t":2.477,"p":-1.71,"v":0.82},{"t":2.54,"p":-1.71,"v":0.77},{"t":2.603,"p":-1.71,"v":1},{"t":2.666,"p":-1.71,"v":1},{"t":2.728,"p":-1.71,"v":1},
{"t":0.215,"p":-1.773,"v":1},{"t":0.341,"p":-1.773,"v":1},{"t":0.467,"p":-1.773,"v":0.77},{"t":0.529,"p":-1.773,"v":0.52},{"t":0.592,"p":-1.773,"v":0.87},{"t":0.655,"p":-1.773,"v":1},{"t":0.718,"p":-1.773,"v":1},{"t":0.781,"p":-1.773,"v":0.62},{"t":0.844,"p":-1.773,"v":0.67},{"t":0.906,"p":-1.773,"v":0.72},{"t":0.969,"p":-1.773,"v":0.92},{"t":1.032,"p":-1.773,"v":0.72},{"t":1.095,"p":-1.773,"v":0.67},{"t":1.158,"p":-1.773,"v":0.72},{"t":1.22,"p":-1.773,"v":0.77},{"t":1.283,"p":-1.773,"v":0.82},{"t":1.346,"p":-1.773,"v":0.77},{"t":1.409,"p":-1.773,"v":0.82},{"t":1.472,"p":-1.773,"v":0.77},{"t":1.535,"p":-1.773,"v":0.82},{"t":1.597,"p":-1.773,"v":0.82},{"t":1.66,"p":-1.773,"v":0.72},{"t":1.723,"p":-1.773,"v":0.82},{"t":1.786,"p":-1.773,"v":0.92},{"t":1.849,"p":-1.773,"v":0.82},{"t":1.912,"p":-1.773,"v":1},{"t":1.974,"p":-1.773,"v":0.87},{"t":2.037,"p":-1.773,"v":0.87},{"t":2.1,"p":-1.773,"v":1},{"t":2.163,"p":-1.773,"v":0.92},{"t":2.226,"p":-1.773,"v":0.52},{"t":2.289,"p":-1.773,"v":0.42},{"t":2.351,"p":-1.773,"v":0.77},{"t":2.414,"p":-1.773,"v":0.67},{"t":2.477,"p":-1.773,"v":0.87},{"t":2.54,"p":-1.773,"v":1},{"t":2.603,"p":-1.773,"v":1},{"t":2.666,"p":-1.773,"v":1},{"t":2.854,"p":-1.773,"v":1},{"t":2.917,"p":-1.773,"v":1},
{"t":0.404,"p":-1.836,"v":1},{"t":0.467,"p":-1.836,"v":1},{"t":0.529,"p":-1.836,"v":0.62},{"t":0.592,"p":-1.836,"v":0.67},{"t":0.655,"p":-1.836,"v":0.82},{"t":0.718,"p":-1.836,"v":0.77},{"t":0.781,"p":-1.836,"v":0.67},{"t":0.844,"p":-1.836,"v":0.77},{"t":0.906,"p":-1.836,"v":0.77},{"t":0.969,"p":-1.836,"v":0.82},{"t":1.032,"p":-1.836,"v":0.87},{"t":1.095,"p":-1.836,"v":0.77},{"t":1.158,"p":-1.836,"v":0.87},{"t":1.22,"p":-1.836,"v":0.72},{"t":1.283,"p":-1.836,"v":0.72},{"t":1.346,"p":-1.836,"v":0.67},{"t":1.409,"p":-1.836,"v":0.77},{"t":1.472,"p":-1.836,"v":0.87},{"t":1.535,"p":-1.836,"v":0.77},{"t":1.597,"p":-1.836,"v":0.77},{"t":1.66,"p":-1.836,"v":0.77},{"t":1.723,"p":-1.836,"v":0.62},{"t":1.786,"p":-1.836,"v":0.77},{"t":1.849,"p":-1.836,"v":0.72},{"t":1.912,"p":-1.836,"v":0.92},{"t":1.974,"p":-1.836,"v":0.77},{"t":2.037,"p":-1.836,"v":0.52},{"t":2.1,"p":-1.836,"v":0.67},{"t":2.163,"p":-1.836,"v":0.77},{"t":2.226,"p":-1.836,"v":0.92},{"t":2.289,"p":-1.836,"v":0.52},{"t":2.351,"p":-1.836,"v":0.87},{"t":2.414,"p":-1.836,"v":1},{"t":2.477,"p":-1.836,"v":1},{"t":2.54,"p":-1.836,"v":0.82},{"t":2.603,"p":-1.836,"v":0.52},{"t":2.666,"p":-1.836,"v":0.52},{"t":2.728,"p":-1.836,"v":0.33},
{"t":0.404,"p":-1.898,"v":1},{"t":0.529,"p":-1.898,"v":1},{"t":0.592,"p":-1.898,"v":0.52},{"t":0.655,"p":-1.898,"v":0.77},{"t":0.718,"p":-1.898,"v":0.77},{"t":0.781,"p":-1.898,"v":0.33},{"t":0.844,"p":-1.898,"v":0.42},{"t":0.906,"p":-1.898,"v":0.62},{"t":0.969,"p":-1.898,"v":0.47},{"t":1.032,"p":-1.898,"v":0.72},{"t":1.095,"p":-1.898,"v":0.92},{"t":1.158,"p":-1.898,"v":0.87},{"t":1.22,"p":-1.898,"v":0.87},{"t":1.283,"p":-1.898,"v":0.72},{"t":1.346,"p":-1.898,"v":0.77},{"t":1.409,"p":-1.898,"v":0.67},{"t":1.472,"p":-1.898,"v":0.52},{"t":1.535,"p":-1.898,"v":0.72},{"t":1.597,"p":-1.898,"v":0.82},{"t":1.66,"p":-1.898,"v":0.67},{"t":1.723,"p":-1.898,"v":0.77},{"t":1.786,"p":-1.898,"v":0.67},{"t":1.849,"p":-1.898,"v":0.87},{"t":1.912,"p":-1.898,"v":0.67},{"t":1.974,"p":-1.898,"v":1},{"t":2.037,"p":-1.898,"v":0.92},{"t":2.1,"p":-1.898,"v":0.77},{"t":2.163,"p":-1.898,"v":0.82},{"t":2.226,"p":-1.898,"v":0.72},{"t":2.289,"p":-1.898,"v":0.77},{"t":2.351,"p":-1.898,"v":0.72},{"t":2.414,"p":-1.898,"v":0.77},{"t":2.477,"p":-1.898,"v":0.52},{"t":2.54,"p":-1.898,"v":1},{"t":2.603,"p":-1.898,"v":0.77},{"t":2.666,"p":-1.898,"v":0.67},{"t":2.728,"p":-1.898,"v":0.82},
{"t":0.341,"p":-1.961,"v":1},{"t":0.404,"p":-1.961,"v":1},{"t":0.467,"p":-1.961,"v":0.67},{"t":0.592,"p":-1.961,"v":1},{"t":0.655,"p":-1.961,"v":0.82},{"t":0.718,"p":-1.961,"v":0.77},{"t":0.781,"p":-1.961,"v":0.82},{"t":0.844,"p":-1.961,"v":0.72},{"t":0.906,"p":-1.961,"v":0.92},{"t":0.969,"p":-1.961,"v":0.77},{"t":1.032,"p":-1.961,"v":0.72},{"t":1.095,"p":-1.961,"v":0.62},{"t":1.158,"p":-1.961,"v":0.72},{"t":1.22,"p":-1.961,"v":0.67},{"t":1.283,"p":-1.961,"v":0.62},{"t":1.346,"p":-1.961,"v":0.82},{"t":1.409,"p":-1.961,"v":0.77},{"t":1.472,"p":-1.961,"v":0.62},{"t":1.535,"p":-1.961,"v":0.67},{"t":1.597,"p":-1.961,"v":0.67},{"t":1.66,"p":-1.961,"v":0.67},{"t":1.723,"p":-1.961,"v":0.67},{"t":1.786,"p":-1.961,"v":0.87},{"t":1.849,"p":-1.961,"v":0.77},{"t":1.912,"p":-1.961,"v":0.72},{"t":1.974,"p":-1.961,"v":0.77},{"t":2.037,"p":-1.961,"v":0.67},{"t":2.1,"p":-1.961,"v":0.82},{"t":2.163,"p":-1.961,"v":0.82},{"t":2.226,"p":-1.961,"v":0.72},{"t":2.289,"p":-1.961,"v":0.92},{"t":2.351,"p":-1.961,"v":0.52},{"t":2.414,"p":-1.961,"v":0.67},{"t":2.477,"p":-1.961,"v":0.52},{"t":2.603,"p":-1.961,"v":1},{"t":2.666,"p":-1.961,"v":0.67},{"t":2.728,"p":-1.961,"v":1},{"t":2.791,"p":-1.961,"v":1},{"t":2.98,"p":-1.961,"v":1},
{"t":0.278,"p":-2.024,"v":1},{"t":0.404,"p":-2.024,"v":0.52},{"t":0.467,"p":-2.024,"v":0.52},{"t":0.529,"p":-2.024,"v":0.67},{"t":0.592,"p":-2.024,"v":0.77},{"t":0.655,"p":-2.024,"v":0.77},{"t":0.718,"p":-2.024,"v":0.67},{"t":0.781,"p":-2.024,"v":1},{"t":0.844,"p":-2.024,"v":0.52},{"t":0.906,"p":-2.024,"v":0.92},{"t":0.969,"p":-2.024,"v":0.67},{"t":1.032,"p":-2.024,"v":0.82},{"t":1.095,"p":-2.024,"v":0.67},{"t":1.158,"p":-2.024,"v":0.77},{"t":1.22,"p":-2.024,"v":0.62},{"t":1.283,"p":-2.024,"v":0.62},{"t":1.346,"p":-2.024,"v":0.52},{"t":1.409,"p":-2.024,"v":0.67},{"t":1.472,"p":-2.024,"v":0.87},{"t":1.535,"p":-2.024,"v":0.77},{"t":1.597,"p":-2.024,"v":0.52},{"t":1.66,"p":-2.024,"v":0.67},{"t":1.723,"p":-2.024,"v":0.52},{"t":1.786,"p":-2.024,"v":0.47},{"t":1.849,"p":-2.024,"v":0.52},{"t":1.912,"p":-2.024,"v":0.67},{"t":1.974,"p":-2.024,"v":0.82},{"t":2.037,"p":-2.024,"v":0.77},{"t":2.1,"p":-2.024,"v":0.72},{"t":2.163,"p":-2.024,"v":0.62},{"t":2.226,"p":-2.024,"v":0.67},{"t":2.289,"p":-2.024,"v":0.77},{"t":2.351,"p":-2.024,"v":0.72},{"t":2.414,"p":-2.024,"v":1},{"t":2.477,"p":-2.024,"v":0.67},{"t":2.54,"p":-2.024,"v":0.33},{"t":2.603,"p":-2.024,"v":0.67},{"t":2.728,"p":-2.024,"v":1},{"t":2.917,"p":-2.024,"v":1},
{"t":0.529,"p":-2.087,"v":0.62},{"t":0.592,"p":-2.087,"v":0.52},{"t":0.655,"p":-2.087,"v":0.82},{"t":0.718,"p":-2.087,"v":0.42},{"t":0.781,"p":-2.087,"v":0.52},{"t":0.844,"p":-2.087,"v":0.52},{"t":0.906,"p":-2.087,"v":0.67},{"t":0.969,"p":-2.087,"v":0.77},{"t":1.032,"p":-2.087,"v":0.87},{"t":1.095,"p":-2.087,"v":0.92},{"t":1.158,"p":-2.087,"v":0.67},{"t":1.22,"p":-2.087,"v":0.67},{"t":1.283,"p":-2.087,"v":0.77},{"t":1.346,"p":-2.087,"v":0.52},{"t":1.409,"p":-2.087,"v":0.72},{"t":1.472,"p":-2.087,"v":0.52},{"t":1.535,"p":-2.087,"v":0.87},{"t":1.597,"p":-2.087,"v":0.62},{"t":1.66,"p":-2.087,"v":0.77},{"t":1.723,"p":-2.087,"v":0.77},{"t":1.786,"p":-2.087,"v":0.62},{"t":1.849,"p":-2.087,"v":0.72},{"t":1.912,"p":-2.087,"v":0.82},{"t":1.974,"p":-2.087,"v":0.67},{"t":2.037,"p":-2.087,"v":0.67},{"t":2.1,"p":-2.087,"v":0.87},{"t":2.163,"p":-2.087,"v":0.87},{"t":2.226,"p":-2.087,"v":0.82},{"t":2.289,"p":-2.087,"v":0.47},{"t":2.351,"p":-2.087,"v":0.82},{"t":2.414,"p":-2.087,"v":0.52},{"t":2.477,"p":-2.087,"v":0.52},{"t":2.54,"p":-2.087,"v":0.27},{"t":2.603,"p":-2.087,"v":1},{"t":2.666,"p":-2.087,"v":1},{"t":2.728,"p":-2.087,"v":0.67},
{"t":0.529,"p":-2.15,"v":1},{"t":0.592,"p":-2.15,"v":1},{"t":0.655,"p":-2.15,"v":0.52},{"t":0.718,"p":-2.15,"v":0.77},{"t":0.781,"p":-2.15,"v":0.82},{"t":0.844,"p":-2.15,"v":0.72},{"t":0.906,"p":-2.15,"v":0.37},{"t":0.969,"p":-2.15,"v":0.67},{"t":1.032,"p":-2.15,"v":0.52},{"t":1.095,"p":-2.15,"v":0.77},{"t":1.158,"p":-2.15,"v":0.77},{"t":1.22,"p":-2.15,"v":0.47},{"t":1.283,"p":-2.15,"v":0.72},{"t":1.346,"p":-2.15,"v":0.47},{"t":1.409,"p":-2.15,"v":0.52},{"t":1.472,"p":-2.15,"v":0.82},{"t":1.535,"p":-2.15,"v":0.57},{"t":1.597,"p":-2.15,"v":0.77},{"t":1.66,"p":-2.15,"v":0.67},{"t":1.723,"p":-2.15,"v":0.47},{"t":1.786,"p":-2.15,"v":0.62},{"t":1.849,"p":-2.15,"v":0.52},{"t":1.912,"p":-2.15,"v":0.42},{"t":1.974,"p":-2.15,"v":0.67},{"t":2.037,"p":-2.15,"v":0.52},{"t":2.1,"p":-2.15,"v":0.77},{"t":2.163,"p":-2.15,"v":0.67},{"t":2.226,"p":-2.15,"v":0.77},{"t":2.289,"p":-2.15,"v":0.52},{"t":2.351,"p":-2.15,"v":0.77},{"t":2.414,"p":-2.15,"v":1},{"t":2.477,"p":-2.15,"v":0.42},{"t":2.54,"p":-2.15,"v":0.52},{"t":2.603,"p":-2.15,"v":1},{"t":2.791,"p":-2.15,"v":1},{"t":2.854,"p":-2.15,"v":1},
{"t":0.467,"p":-2.213,"v":0.33},{"t":0.529,"p":-2.213,"v":1},{"t":0.592,"p":-2.213,"v":0.67},{"t":0.655,"p":-2.213,"v":1},{"t":0.718,"p":-2.213,"v":0.52},{"t":0.781,"p":-2.213,"v":0.52},{"t":0.844,"p":-2.213,"v":0.82},{"t":0.906,"p":-2.213,"v":0.52},{"t":0.969,"p":-2.213,"v":0.77},{"t":1.032,"p":-2.213,"v":0.52},{"t":1.095,"p":-2.213,"v":0.67},{"t":1.158,"p":-2.213,"v":0.42},{"t":1.22,"p":-2.213,"v":0.62},{"t":1.283,"p":-2.213,"v":0.62},{"t":1.346,"p":-2.213,"v":0.37},{"t":1.409,"p":-2.213,"v":0.52},{"t":1.472,"p":-2.213,"v":0.52},{"t":1.535,"p":-2.213,"v":0.72},{"t":1.597,"p":-2.213,"v":0.77},{"t":1.66,"p":-2.213,"v":0.72},{"t":1.723,"p":-2.213,"v":0.52},{"t":1.786,"p":-2.213,"v":0.47},{"t":1.849,"p":-2.213,"v":0.82},{"t":1.912,"p":-2.213,"v":0.77},{"t":1.974,"p":-2.213,"v":0.62},{"t":2.037,"p":-2.213,"v":0.52},{"t":2.1,"p":-2.213,"v":0.52},{"t":2.163,"p":-2.213,"v":0.77},{"t":2.226,"p":-2.213,"v":0.72},{"t":2.289,"p":-2.213,"v":0.52},{"t":2.351,"p":-2.213,"v":0.72},{"t":2.477,"p":-2.213,"v":0.87},{"t":2.603,"p":-2.213,"v":1},{"t":2.666,"p":-2.213,"v":0.52},
{"t":0.152,"p":-2.275,"v":0.52},{"t":0.404,"p":-2.275,"v":1},{"t":0.467,"p":-2.275,"v":1},{"t":0.529,"p":-2.275,"v":1},{"t":0.592,"p":-2.275,"v":1},{"t":0.655,"p":-2.275,"v":1},{"t":0.718,"p":-2.275,"v":0.33},{"t":0.781,"p":-2.275,"v":0.87},{"t":0.844,"p":-2.275,"v":0.52},{"t":0.906,"p":-2.275,"v":0.52},{"t":0.969,"p":-2.275,"v":0.82},{"t":1.032,"p":-2.275,"v":0.33},{"t":1.095,"p":-2.275,"v":0.62},{"t":1.158,"p":-2.275,"v":0.72},{"t":1.22,"p":-2.275,"v":0.33},{"t":1.283,"p":-2.275,"v":0.57},{"t":1.346,"p":-2.275,"v":0.62},{"t":1.409,"p":-2.275,"v":0.72},{"t":1.472,"p":-2.275,"v":0.52},{"t":1.535,"p":-2.275,"v":0.77},{"t":1.597,"p":-2.275,"v":0.33},{"t":1.66,"p":-2.275,"v":0.37},{"t":1.723,"p":-2.275,"v":0.62},{"t":1.786,"p":-2.275,"v":0.62},{"t":1.849,"p":-2.275,"v":0.67},{"t":1.912,"p":-2.275,"v":1},{"t":1.974,"p":-2.275,"v":0.37},{"t":2.037,"p":-2.275,"v":0.82},{"t":2.1,"p":-2.275,"v":0.77},{"t":2.163,"p":-2.275,"v":0.92},{"t":2.226,"p":-2.275,"v":0.77},{"t":2.289,"p":-2.275,"v":0.52},{"t":2.351,"p":-2.275,"v":0.52},{"t":2.414,"p":-2.275,"v":0.62},{"t":2.477,"p":-2.275,"v":1},{"t":2.54,"p":-2.275,"v":1},{"t":2.854,"p":-2.275,"v":1},
{"t":0.152,"p":-2.338,"v":1},{"t":0.718,"p":-2.338,"v":0.62},{"t":0.781,"p":-2.338,"v":1},{"t":0.844,"p":-2.338,"v":0.72},{"t":0.906,"p":-2.338,"v":0.62},{"t":0.969,"p":-2.338,"v":0.82},{"t":1.032,"p":-2.338,"v":0.52},{"t":1.095,"p":-2.338,"v":0.62},{"t":1.158,"p":-2.338,"v":0.37},{"t":1.22,"p":-2.338,"v":0.52},{"t":1.283,"p":-2.338,"v":0.52},{"t":1.346,"p":-2.338,"v":0.52},{"t":1.409,"p":-2.338,"v":0.37},{"t":1.472,"p":-2.338,"v":0.62},{"t":1.535,"p":-2.338,"v":0.52},{"t":1.597,"p":-2.338,"v":0.52},{"t":1.66,"p":-2.338,"v":0.52},{"t":1.723,"p":-2.338,"v":0.52},{"t":1.786,"p":-2.338,"v":0.67},{"t":1.849,"p":-2.338,"v":0.67},{"t":1.912,"p":-2.338,"v":0.52},{"t":1.974,"p":-2.338,"v":0.52},{"t":2.037,"p":-2.338,"v":0.42},{"t":2.1,"p":-2.338,"v":0.62},{"t":2.163,"p":-2.338,"v":0.52},{"t":2.226,"p":-2.338,"v":0.52},{"t":2.289,"p":-2.338,"v":0.77},{"t":2.351,"p":-2.338,"v":0.67},{"t":2.414,"p":-2.338,"v":0.82},{"t":2.603,"p":-2.338,"v":1},{"t":2.666,"p":-2.338,"v":1},
{"t":0.592,"p":-2.401,"v":1},{"t":0.655,"p":-2.401,"v":0.52},{"t":0.718,"p":-2.401,"v":0.52},{"t":0.781,"p":-2.401,"v":1},{"t":0.844,"p":-2.401,"v":0.57},{"t":0.906,"p":-2.401,"v":0.57},{"t":0.969,"p":-2.401,"v":0.77},{"t":1.032,"p":-2.401,"v":0.62},{"t":1.095,"p":-2.401,"v":0.77},{"t":1.158,"p":-2.401,"v":0.22},{"t":1.22,"p":-2.401,"v":0.72},{"t":1.283,"p":-2.401,"v":0.62},{"t":1.346,"p":-2.401,"v":0.62},{"t":1.409,"p":-2.401,"v":0.52},{"t":1.472,"p":-2.401,"v":0.42},{"t":1.535,"p":-2.401,"v":0.27},{"t":1.597,"p":-2.401,"v":0.62},{"t":1.66,"p":-2.401,"v":0.42},{"t":1.723,"p":-2.401,"v":0.52},{"t":1.786,"p":-2.401,"v":0.67},{"t":1.849,"p":-2.401,"v":0.52},{"t":1.912,"p":-2.401,"v":0.42},{"t":1.974,"p":-2.401,"v":0.12},{"t":2.037,"p":-2.401,"v":0.82},{"t":2.1,"p":-2.401,"v":0.77},{"t":2.163,"p":-2.401,"v":0.52},{"t":2.226,"p":-2.401,"v":0.82},{"t":2.289,"p":-2.401,"v":0.67},{"t":2.351,"p":-2.401,"v":0.82},{"t":2.414,"p":-2.401,"v":0.77},{"t":2.477,"p":-2.401,"v":1},{"t":2.728,"p":-2.401,"v":1},
{"t":0.278,"p":-2.464,"v":0.52},{"t":0.467,"p":-2.464,"v":1},{"t":0.529,"p":-2.464,"v":1},{"t":0.655,"p":-2.464,"v":0.67},{"t":0.718,"p":-2.464,"v":0.67},{"t":0.781,"p":-2.464,"v":0.52},{"t":0.844,"p":-2.464,"v":0.52},{"t":0.906,"p":-2.464,"v":0.27},{"t":0.969,"p":-2.464,"v":1},{"t":1.032,"p":-2.464,"v":0.82},{"t":1.095,"p":-2.464,"v":0.42},{"t":1.158,"p":-2.464,"v":0.52},{"t":1.22,"p":-2.464,"v":0.87},{"t":1.283,"p":-2.464,"v":0.67},{"t":1.346,"p":-2.464,"v":0.52},{"t":1.409,"p":-2.464,"v":0.52},{"t":1.472,"p":-2.464,"v":0.52},{"t":1.535,"p":-2.464,"v":0.62},{"t":1.597,"p":-2.464,"v":0.42},{"t":1.66,"p":-2.464,"v":0.72},{"t":1.723,"p":-2.464,"v":0.42},{"t":1.786,"p":-2.464,"v":0.87},{"t":1.849,"p":-2.464,"v":0.27},{"t":1.912,"p":-2.464,"v":0.82},{"t":1.974,"p":-2.464,"v":0.62},{"t":2.037,"p":-2.464,"v":0.42},{"t":2.163,"p":-2.464,"v":0.33},{"t":2.226,"p":-2.464,"v":0.33},{"t":2.289,"p":-2.464,"v":1},{"t":2.351,"p":-2.464,"v":1},{"t":2.414,"p":-2.464,"v":0.67},{"t":2.477,"p":-2.464,"v":1},{"t":2.54,"p":-2.464,"v":1},
{"t":0.341,"p":-2.527,"v":1},{"t":0.467,"p":-2.527,"v":0.52},{"t":0.529,"p":-2.527,"v":1},{"t":0.718,"p":-2.527,"v":0.62},{"t":0.781,"p":-2.527,"v":0.52},{"t":0.844,"p":-2.527,"v":0.52},{"t":0.906,"p":-2.527,"v":0.52},{"t":0.969,"p":-2.527,"v":0.82},{"t":1.032,"p":-2.527,"v":0.52},{"t":1.095,"p":-2.527,"v":0.52},{"t":1.158,"p":-2.527,"v":0.42},{"t":1.22,"p":-2.527,"v":0.52},{"t":1.283,"p":-2.527,"v":0.52},{"t":1.346,"p":-2.527,"v":0.42},{"t":1.409,"p":-2.527,"v":0.67},{"t":1.472,"p":-2.527,"v":0.22},{"t":1.535,"p":-2.527,"v":0.27},{"t":1.597,"p":-2.527,"v":0.42},{"t":1.66,"p":-2.527,"v":0.52},{"t":1.723,"p":-2.527,"v":0.52},{"t":1.786,"p":-2.527,"v":0.62},{"t":1.849,"p":-2.527,"v":0.27},{"t":1.912,"p":-2.527,"v":0.33},{"t":1.974,"p":-2.527,"v":0.33},{"t":2.037,"p":-2.527,"v":1},{"t":2.163,"p":-2.527,"v":0.52},{"t":2.226,"p":-2.527,"v":0.33},{"t":2.289,"p":-2.527,"v":0.52},{"t":2.351,"p":-2.527,"v":1},{"t":2.728,"p":-2.527,"v":1},
{"t":0.529,"p":-2.589,"v":0.67},{"t":0.655,"p":-2.589,"v":1},{"t":0.718,"p":-2.589,"v":1},{"t":0.844,"p":-2.589,"v":0.52},{"t":0.906,"p":-2.589,"v":1},{"t":0.969,"p":-2.589,"v":0.62},{"t":1.032,"p":-2.589,"v":0.12},{"t":1.095,"p":-2.589,"v":0.22},{"t":1.158,"p":-2.589,"v":1},{"t":1.22,"p":-2.589,"v":0.42},{"t":1.283,"p":-2.589,"v":0.42},{"t":1.346,"p":-2.589,"v":0.37},{"t":1.409,"p":-2.589,"v":0.37},{"t":1.472,"p":-2.589,"v":0.27},{"t":1.535,"p":-2.589,"v":0.33},{"t":1.597,"p":-2.589,"v":0.42},{"t":1.723,"p":-2.589,"v":0.52},{"t":1.786,"p":-2.589,"v":0.87},{"t":1.849,"p":-2.589,"v":0.77},{"t":1.912,"p":-2.589,"v":0.42},{"t":1.974,"p":-2.589,"v":0.62},{"t":2.037,"p":-2.589,"v":0.52},{"t":2.1,"p":-2.589,"v":0.33},{"t":2.163,"p":-2.589,"v":0.52},{"t":2.226,"p":-2.589,"v":0.33},{"t":2.289,"p":-2.589,"v":1},{"t":2.54,"p":-2.589,"v":1},{"t":2.666,"p":-2.589,"v":1},{"t":2.791,"p":-2.589,"v":1},
{"t":0.529,"p":-2.652,"v":1},{"t":0.592,"p":-2.652,"v":0.67},{"t":0.655,"p":-2.652,"v":0.52},{"t":0.718,"p":-2.652,"v":1},{"t":0.844,"p":-2.652,"v":0.52},{"t":0.906,"p":-2.652,"v":1},{"t":0.969,"p":-2.652,"v":0.77},{"t":1.032,"p":-2.652,"v":1},{"t":1.095,"p":-2.652,"v":0.77},{"t":1.158,"p":-2.652,"v":0.52},{"t":1.22,"p":-2.652,"v":0.52},{"t":1.283,"p":-2.652,"v":0.52},{"t":1.346,"p":-2.652,"v":0.33},{"t":1.409,"p":-2.652,"v":0.17},{"t":1.535,"p":-2.652,"v":0.52},{"t":1.597,"p":-2.652,"v":0.52},{"t":1.66,"p":-2.652,"v":0.33},{"t":1.723,"p":-2.652,"v":0.67},{"t":1.786,"p":-2.652,"v":0.27},{"t":1.849,"p":-2.652,"v":0.42},{"t":1.912,"p":-2.652,"v":0.42},{"t":1.974,"p":-2.652,"v":0.82},{"t":2.037,"p":-2.652,"v":0.67},{"t":2.1,"p":-2.652,"v":1},{"t":2.163,"p":-2.652,"v":0.42},{"t":2.226,"p":-2.652,"v":1},{"t":2.289,"p":-2.652,"v":1},{"t":2.351,"p":-2.652,"v":0.52},{"t":2.414,"p":-2.652,"v":0.52},{"t":2.477,"p":-2.652,"v":0.52},
{"t":0.215,"p":-2.715,"v":1},{"t":0.278,"p":-2.715,"v":1},{"t":0.592,"p":-2.715,"v":1},{"t":0.655,"p":-2.715,"v":0.52},{"t":0.906,"p":-2.715,"v":1},{"t":1.032,"p":-2.715,"v":0.52},{"t":1.095,"p":-2.715,"v":1},{"t":1.158,"p":-2.715,"v":0.33},{"t":1.283,"p":-2.715,"v":0.22},{"t":1.346,"p":-2.715,"v":0.77},{"t":1.409,"p":-2.715,"v":0.52},{"t":1.472,"p":-2.715,"v":0.33},{"t":1.597,"p":-2.715,"v":0.22},{"t":1.66,"p":-2.715,"v":0.33},{"t":1.723,"p":-2.715,"v":0.27},{"t":1.786,"p":-2.715,"v":0.67},{"t":1.849,"p":-2.715,"v":0.33},{"t":2.037,"p":-2.715,"v":1},{"t":2.1,"p":-2.715,"v":0.52},{"t":2.289,"p":-2.715,"v":0.33},{"t":2.477,"p":-2.715,"v":1},{"t":2.728,"p":-2.715,"v":1},
{"t":0.404,"p":-2.778,"v":1},{"t":0.655,"p":-2.778,"v":1},{"t":0.844,"p":-2.778,"v":1},{"t":0.906,"p":-2.778,"v":1},{"t":1.095,"p":-2.778,"v":1},{"t":1.283,"p":-2.778,"v":0.42},{"t":1.409,"p":-2.778,"v":0.52},{"t":1.472,"p":-2.778,"v":0.52},{"t":1.535,"p":-2.778,"v":1},{"t":1.597,"p":-2.778,"v":0.52},{"t":1.66,"p":-2.778,"v":1},{"t":1.786,"p":-2.778,"v":0.27},{"t":1.849,"p":-2.778,"v":0.33},{"t":1.974,"p":-2.778,"v":1},{"t":2.037,"p":-2.778,"v":0.77},{"t":2.1,"p":-2.778,"v":1},{"t":2.163,"p":-2.778,"v":0.67},{"t":2.226,"p":-2.778,"v":1},{"t":2.289,"p":-2.778,"v":1},{"t":2.351,"p":-2.778,"v":0.52},{"t":2.666,"p":-2.778,"v":1},
{"t":0.655,"p":-2.841,"v":1},{"t":0.718,"p":-2.841,"v":1},{"t":1.095,"p":-2.841,"v":0.52},{"t":1.283,"p":-2.841,"v":1},{"t":1.409,"p":-2.841,"v":0.33},{"t":1.66,"p":-2.841,"v":1},{"t":1.849,"p":-2.841,"v":0.52},{"t":2.1,"p":-2.841,"v":0.52},{"t":2.163,"p":-2.841,"v":1},{"t":2.226,"p":-2.841,"v":0.52},{"t":2.289,"p":-2.841,"v":1},{"t":2.54,"p":-2.841,"v":1},{"t":2.728,"p":-2.841,"v":1},
{"t":1.032,"p":-2.904,"v":0.52},{"t":1.786,"p":-2.904,"v":1},{"t":2.163,"p":-2.904,"v":1},{"t":2.226,"p":-2.904,"v":1},{"t":2.351,"p":-2.904,"v":1},
{"t":0.529,"p":-2.966,"v":1},{"t":1.032,"p":-2.966,"v":0.52},{"t":1.158,"p":-2.966,"v":0.52},{"t":1.283,"p":-2.966,"v":1},{"t":1.535,"p":-2.966,"v":1},{"t":1.597,"p":-2.966,"v":1},
{"t":2.477,"p":-3.029,"v":1},
{"t":1.22,"p":-3.092,"v":1},{"t":1.409,"p":-3.092,"v":1}
]},"mark":{"type":"rect","width":17.4,"height":12.5},"encoding":{"x":{"field":"t","type":"quantitative","scale":{"domain":[0,3.1416],"nice":false,"zero":false},"axis":{"values":[0,0.1,0.2,0.3,0.4,0.5,0.6,0.7,0.8,0.9,1,1.1,1.2,1.3,1.4,1.5,1.6,1.7,1.8,1.9,2,2.1,2.2,2.3,2.4,2.5,2.6,2.7,2.8,2.9,3,3.1],"labelExpr":"abs(datum.value*2-round(datum.value*2))<0.001?format(datum.value,'~g'):''","labelFontSize":22,"labelPadding":23,"labelOverlap":false,"labelFlush":false,"tickSize":{"condition":{"test":"abs(datum.value*2-round(datum.value*2))<0.001","value":-20},"value":-11},"title":"Theta (rad)","titleFontSize":25,"titleAlign":"right","titleX":867,"titleY":47,"titleBaseline":"alphabetic"}},"y":{"field":"p","type":"quantitative","scale":{"domain":[-3.1416,0],"nice":false,"zero":false},"axis":{"values":[0,-0.1,-0.2,-0.3,-0.4,-0.5,-0.6,-0.7,-0.8,-0.9,-1,-1.1,-1.2,-1.3,-1.4,-1.5,-1.6,-1.7,-1.8,-1.9,-2,-2.1,-2.2,-2.3,-2.4,-2.5,-2.6,-2.7,-2.8,-2.9,-3,-3.1],"labelExpr":"abs(datum.value*2-round(datum.value*2))<0.001?format(datum.value,'~g'):''","labelFontSize":22,"labelPadding":31,"labelOverlap":false,"labelFlush":false,"tickSize":{"condition":{"test":"abs(datum.value*2-round(datum.value*2))<0.001","value":-25},"value":-13},"title":"Phi (rad)","titleFontSize":22,"titleAlign":"right","titleAngle":-90,"titleX":-58,"titleY":11,"titleBaseline":"alphabetic"}},"color":{"field":"v","type":"quantitative","legend":null,"scale":{"type":"threshold","domain":[0.05,0.1,0.15,0.2,0.25,0.3,0.35,0.4,0.45,0.5,0.55,0.6,0.65,0.7,0.75,0.8,0.85,0.9,0.95],"range":["#6600ff","#3300ff","#0000ff","#0044ff","#0088ff","#00bbff","#00ffff","#00ffcc","#00ff88","#00ff44","#00ff00","#33ff00","#66ff00","#99ff00","#ddff00","#ffee00","#ffaa00","#ff7700","#ff3300","#ff0000"]}}}},{"width":50,"height":625,"data":{"values":[{"lo":0,"hi":0.05},{"lo":0.05,"hi":0.1},{"lo":0.1,"hi":0.15},{"lo":0.15,"hi":0.2},{"lo":0.2,"hi":0.25},{"lo":0.25,"hi":0.3},{"lo":0.3,"hi":0.35},{"lo":0.35,"hi":0.4},{"lo":0.4,"hi":0.45},{"lo":0.45,"hi":0.5},{"lo":0.5,"hi":0.55},{"lo":0.55,"hi":0.6},{"lo":0.6,"hi":0.65},{"lo":0.65,"hi":0.7},{"lo":0.7,"hi":0.75},{"lo":0.75,"hi":0.8},{"lo":0.8,"hi":0.85},{"lo":0.85,"hi":0.9},{"lo":0.9,"hi":0.95},{"lo":0.95,"hi":1}]},"mark":{"type":"rect"},"encoding":{"y":{"field":"lo","type":"quantitative","scale":{"domain":[0,1],"nice":false},"axis":{"orient":"right","values":[0,0.1,0.2,0.3,0.4,0.5,0.6,0.7,0.8,0.9,1],"labelExpr":"format(datum.value,'~g')","tickSize":-26,"labelPadding":29,"labelFontSize":21,"labelOverlap":false,"labelFlush":false,"title":null}},"y2":{"field":"hi"},"color":{"field":"lo","type":"quantitative","legend":null,"scale":{"type":"threshold","domain":[0.05,0.1,0.15,0.2,0.25,0.3,0.35,0.4,0.45,0.5,0.55,0.6,0.65,0.7,0.75,0.8,0.85,0.9,0.95],"range":["#6600ff","#3300ff","#0000ff","#0044ff","#0088ff","#00bbff","#00ffff","#00ffcc","#00ff88","#00ff44","#00ff00","#33ff00","#66ff00","#99ff00","#ddff00","#ffee00","#ffaa00","#ff7700","#ff3300","#ff0000"]}}}}]}
